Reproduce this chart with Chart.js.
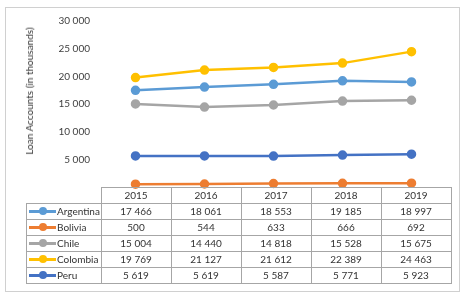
<!DOCTYPE html>
<html>
<head>
<meta charset="utf-8">
<script src="https://cdn.jsdelivr.net/npm/chart.js@4"></script>
<style>
  body { margin: 0; background: #fff; }
  #wrap { position: relative; width: 467px; height: 301px; overflow: hidden; font-family: Lato, "Open Sans", sans-serif; }
  #frame { position: absolute; left: 5px; top: 7px; width: 455px; height: 285px; border: 1px solid #d0d0d0; box-sizing: border-box; }
  canvas { position: absolute; left: 0; top: 0; }
  #ytitle { position: absolute; left: 29px; top: 91px; font-size: 10px; color: #333; white-space: nowrap; transform: translate(-50%, -50%) rotate(-90deg); }
  #tbl { position: absolute; border-collapse: collapse; font-size: 10px; color: #333; }
  #tbl td { border: 1px solid #a6a6a6; text-align: center; padding: 0; height: 15px; line-height: 13px; }
  #tbl td.blank { border: none; }
  #tbl td.key { text-align: left; white-space: nowrap; }
  .mark { display: inline-block; position: relative; width: 27px; height: 3px; vertical-align: middle; margin: 0 1px 0 2px; top: -1px; }
  .mark i { position: absolute; left: 10px; top: -2.5px; width: 8px; height: 8px; border-radius: 50%; }
</style>
</head>
<body>
<div id="wrap">
  <div id="frame"></div>
  <canvas id="mycanvas" width="467" height="301"></canvas>
  <div id="ytitle">Loan Accounts (in thousands)</div>
  <table id="tbl"></table>
</div>
<script>
var years = ['2015', '2016', '2017', '2018', '2019'];
var countries = ['Argentina', 'Bolivia', 'Chile', 'Colombia', 'Peru'];
var argentina = [17466, 18061, 18553, 19185, 18997];
var bolivia = [500, 544, 633, 666, 692];
var chile = [15004, 14440, 14818, 15528, 15675];
var colombia = [19769, 21127, 21612, 22389, 24463];
var peru = [5619, 5619, 5587, 5771, 5923];
var yMin = 0, yMax = 30000, yStep = 5000;

var colors = ['#5B9BD5', '#ED7D31', '#A5A5A5', '#FFC000', '#4472C4'];
var series = [argentina, bolivia, chile, colombia, peru];

function fmt(n) {
    return String(n).replace(/\B(?=(\d{3})+(?!\d))/g, ' ');
}

var datasets = [];
for (var i in series) {
    datasets.push({
        label: countries[i],
        data: series[i],
        borderColor: colors[i],
        backgroundColor: colors[i],
        borderWidth: 2.5,
        pointRadius: 3.5,
        pointHoverRadius: 3.5,
        clip: false
    });
}

// data table under the plot, columns lined up with the x scale
var tableUnder = {
    id: 'tableUnder',
    afterRender: function(chart) {
        var x = chart.scales.x;
        var tbl = document.getElementById('tbl');
        if (tbl.dataset.done) return;
        tbl.dataset.done = '1';
        var colW = x.getPixelForValue(1) - x.getPixelForValue(0);
        var left = chart.chartArea.left;
        var keyW = 74;
        var html = '<tr><td class="blank" style="width:' + keyW + 'px"></td>';
        for (var j in years) html += '<td style="width:' + colW + 'px">' + years[j] + '</td>';
        html += '</tr>';
        for (var i in series) {
            html += '<tr><td class="key"><span class="mark" style="background:' + colors[i] + '"><i style="background:' + colors[i] + '"></i></span>' + countries[i] + '</td>';
            for (var k in series[i]) html += '<td>' + fmt(series[i][k]) + '</td>';
            html += '</tr>';
        }
        tbl.innerHTML = html;
        tbl.style.left = (left - keyW - 1) + 'px';
        tbl.style.top = chart.chartArea.bottom + 'px';
        tbl.style.tableLayout = 'fixed';
    }
};

var ctx = document.getElementById('mycanvas');
var myChart = new Chart(ctx, {
    type: 'line',
    data: { labels: years, datasets: datasets },
    options: {
        responsive: false,
        animation: false,
        events: [],
        layout: { padding: { left: 14, right: 21, top: 21, bottom: 114 } },
        plugins: { legend: { display: false }, tooltip: { enabled: false } },
        scales: {
            x: { display: false, offset: true },
            y: {
                min: yMin, max: yMax,
                grid: { display: false, drawTicks: false },
                border: { display: false },
                ticks: {
                    stepSize: yStep,
                    padding: 11,
                    color: '#404040',
                    font: { family: 'Lato', size: 10 },
                    callback: function(v) { return v === 0 ? '' : fmt(v); }
                },
                afterFit: function(s) { s.width = 87; }
            }
        }
    },
    plugins: [tableUnder]
});
</script>
</body>
</html>
